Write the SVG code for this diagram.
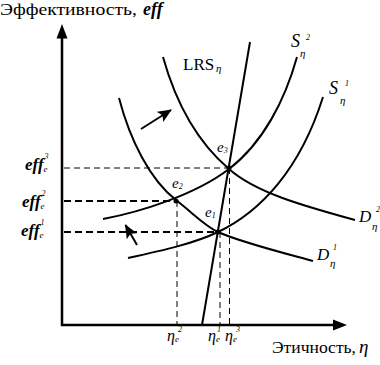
<svg xmlns="http://www.w3.org/2000/svg" width="380" height="365" viewBox="0 0 380 365">
<style>
text{font-family:"Liberation Serif","Times New Roman",serif;fill:#000}
.curve{fill:none;stroke:#000;stroke-width:2}
.axis{fill:none;stroke:#000;stroke-width:2.5}
.dash1{fill:none;stroke:#000;stroke-width:1;stroke-dasharray:6 4}
.dash2{fill:none;stroke:#000;stroke-width:1.8;stroke-dasharray:7 4}
.it{font-style:italic}
.bi{font-style:italic;font-weight:bold}
.sm{font-size:9px}
.xs{font-size:8px}
</style>
<defs>
<marker id="ah" markerWidth="14" markerHeight="12" refX="13" refY="6" orient="auto" markerUnits="userSpaceOnUse">
<path d="M0,0 L14,6 L0,12 L3,6 z" fill="#000"/>
</marker>
</defs>
<rect width="380" height="365" fill="#fff"/>
<g id="connectors">
<line class="axis" x1="62" y1="36" x2="62" y2="326"/>
<polygon points="62,24 56.5,38.5 67.5,38.5" fill="#000"/>
<line class="axis" x1="61" y1="325" x2="335" y2="325"/>
<polygon points="347,325 333,319.5 333,330.5" fill="#000"/>
<line class="dash1" x1="64" y1="168" x2="229" y2="168"/>
<line class="dash2" x1="64" y1="201" x2="176" y2="201"/>
<line class="dash2" x1="64" y1="232" x2="218" y2="232"/>
<line class="dash1" x1="177" y1="201" x2="177" y2="324"/>
<line class="dash1" x1="220" y1="232" x2="220" y2="324"/>
<line class="dash1" x1="229.5" y1="168" x2="229.5" y2="324"/>
<line class="curve" x1="141" y1="129" x2="171" y2="110" marker-end="url(#ah)"/>
<line class="curve" x1="137" y1="245" x2="125.5" y2="225" marker-end="url(#ah)"/>
</g>
<g id="D2">
<path class="curve" d="M163,57 C175,100 195,140 229,169 C255,192 300,205 355,220"/>
<text x="359" y="222" font-size="17" class="it">D</text>
<text x="372" y="230" font-size="11" class="it">η</text>
<text x="376" y="212" class="xs it">2</text>
</g>
<g id="D1">
<path class="curve" d="M119,98 C130,140 150,180 176,200 C195,215 205,226 218,232 C240,242 280,252 313,261"/>
<text x="317" y="260" font-size="17" class="it">D</text>
<text x="330" y="267" font-size="11" class="it">η</text>
<text x="333" y="250" class="xs it">1</text>
</g>
<g id="S2">
<path class="curve" d="M103,219 C140,212 195,195 229,169 C263,143 285,100 297,57"/>
<text x="291" y="47" font-size="18" class="it">S</text>
<text x="300" y="57" font-size="11" class="it">η</text>
<text x="306" y="40" class="xs it">2</text>
</g>
<g id="S1">
<path class="curve" d="M128,258 C165,250 195,243 218,232 C260,212 300,170 323,97"/>
<text x="329" y="94" font-size="18" class="it">S</text>
<text x="340" y="104" font-size="11" class="it">η</text>
<text x="345" y="86" class="xs it">1</text>
</g>
<g id="LRS">
<line class="curve" x1="250" y1="42" x2="202" y2="325"/>
<text x="183" y="70" font-size="17">LRS</text>
<text x="216" y="72" font-size="11" class="it">η</text>
</g>
<g id="e1">
<circle cx="218" cy="232" r="2.5" fill="#000"/>
<text x="205" y="217" font-size="15" class="it">e<tspan font-size="8" dy="1">1</tspan></text>
</g>
<g id="e2">
<circle cx="176" cy="201" r="2.5" fill="#000"/>
<text x="172" y="188" font-size="15" class="it">e<tspan font-size="8" dy="1">2</tspan></text>
</g>
<g id="e3">
<circle cx="229" cy="168" r="2.5" fill="#000"/>
<text x="217" y="152" font-size="15" class="it">e<tspan font-size="8" dy="1">3</tspan></text>
</g>
<g id="labels">
<text x="0" y="15" font-size="17" textLength="137" lengthAdjust="spacingAndGlyphs">Эффективность,</text>
<text x="143" y="15" font-size="18" class="bi">eff</text>
<text x="272" y="353" font-size="17" textLength="84" lengthAdjust="spacingAndGlyphs">Этичность,</text>
<text x="359" y="353" font-size="19" class="it">η</text>
<text x="25" y="170" font-size="17" class="bi">eff<tspan class="sm it" font-weight="normal" dy="2">e</tspan><tspan class="xs" font-weight="normal" dx="-3" dy="-13">3</tspan></text>
<text x="22" y="207" font-size="17" class="bi">eff<tspan class="sm it" font-weight="normal" dy="2">e</tspan><tspan class="xs" font-weight="normal" dx="-3" dy="-13">2</tspan></text>
<text x="21" y="236" font-size="17" class="bi">eff<tspan class="sm it" font-weight="normal" dy="2">e</tspan><tspan class="xs" font-weight="normal" dx="-3" dy="-13">1</tspan></text>
<text x="167" y="341" font-size="16" class="it">η<tspan class="sm" dy="1">e</tspan><tspan class="xs" dx="-1" dy="-10">2</tspan></text>
<text x="208" y="341" font-size="16" class="it">η<tspan class="sm" dy="1">e</tspan><tspan class="xs" dx="-3" dy="-10">1</tspan></text>
<text x="225" y="341" font-size="16" class="it">η<tspan class="sm" dy="1">e</tspan><tspan class="xs" dx="-1" dy="-10">3</tspan></text>
</g>
</svg>
